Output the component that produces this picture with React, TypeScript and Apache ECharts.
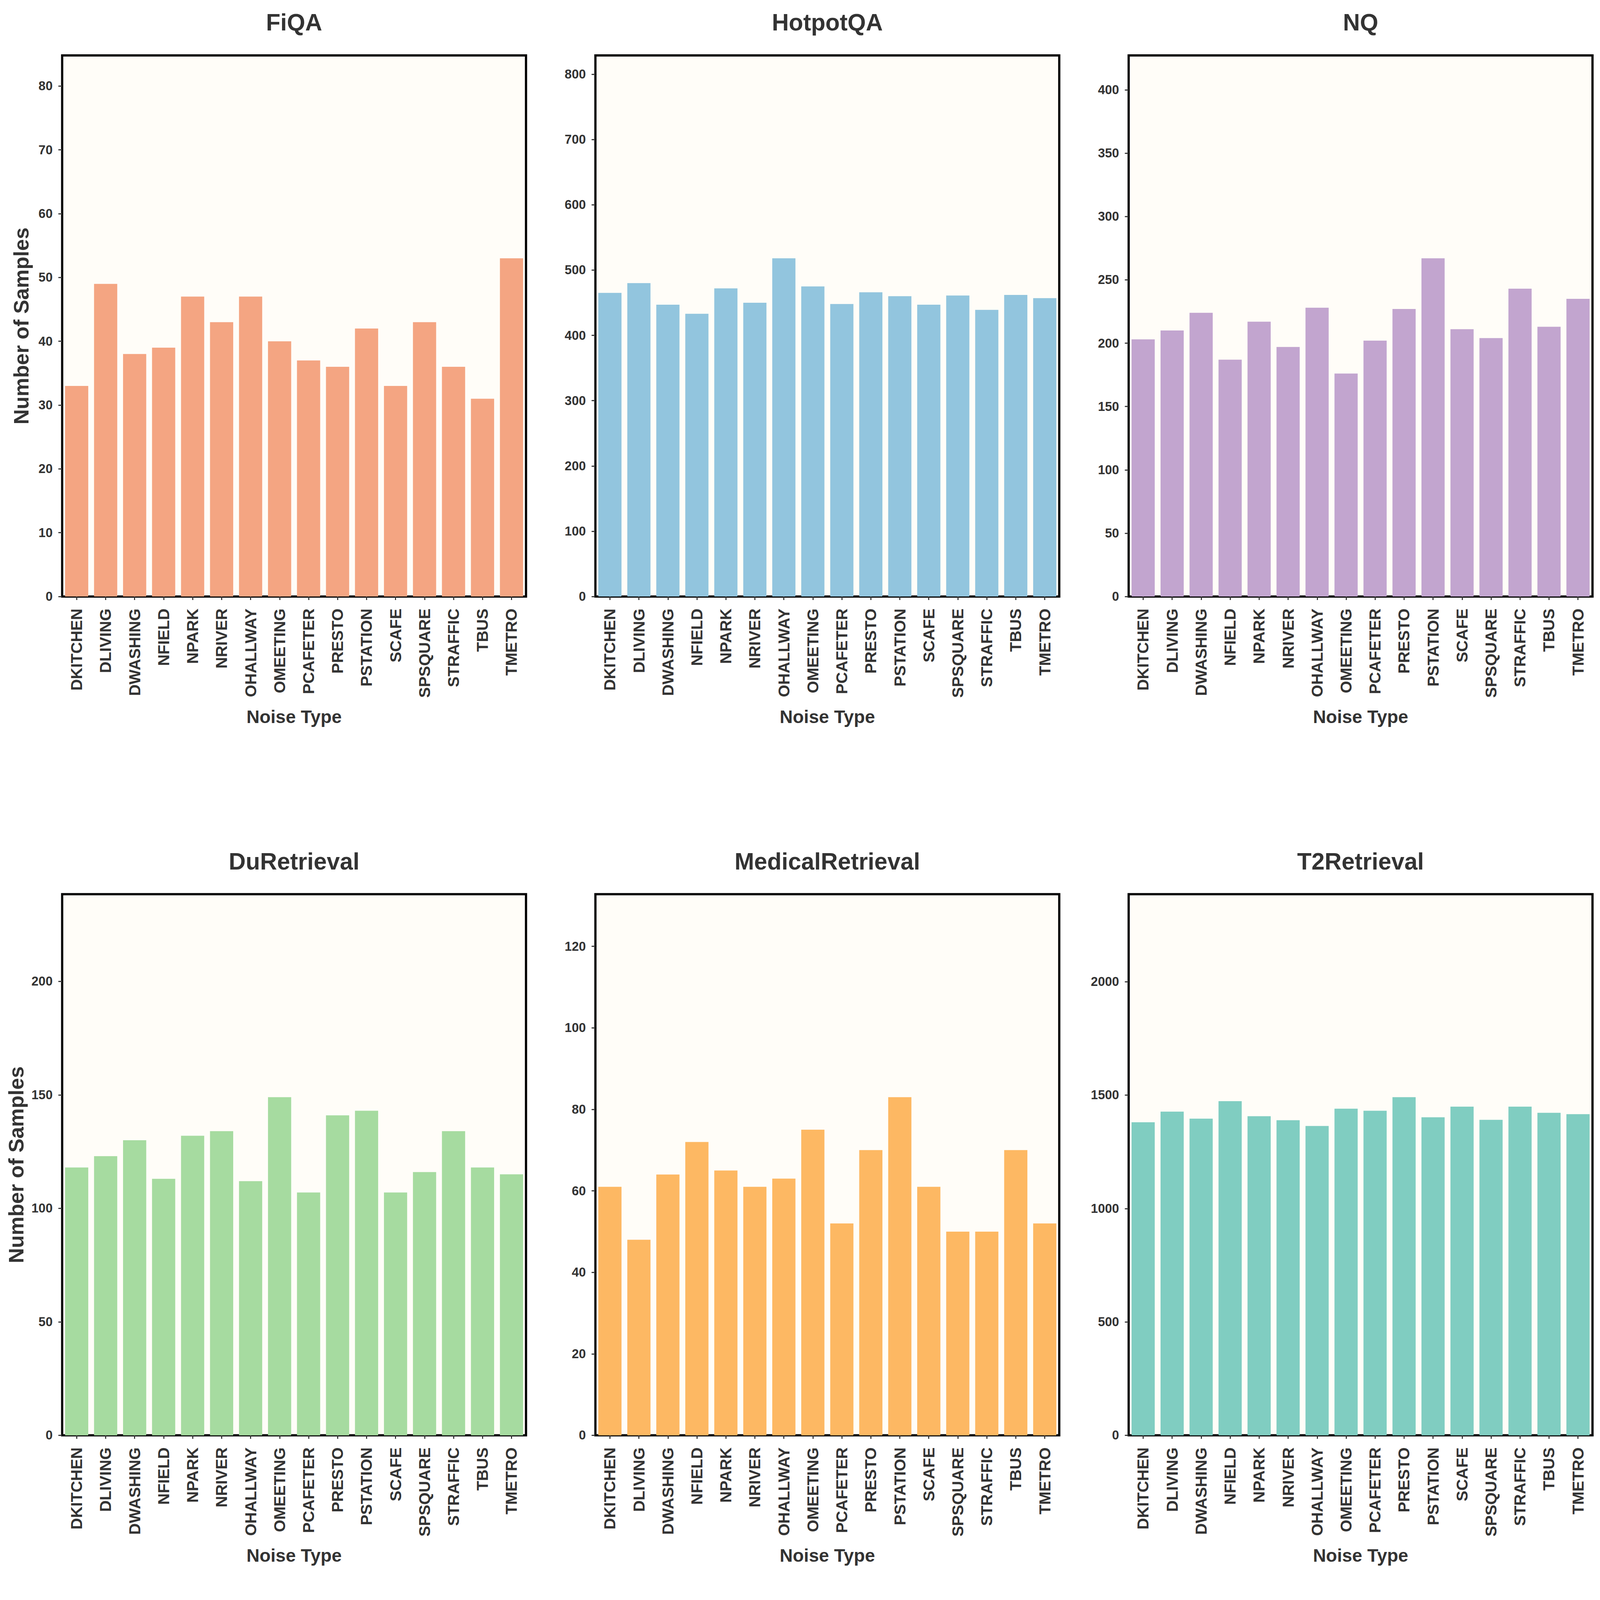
import React, { useEffect, useRef } from "react";
import * as echarts from "echarts";

const categories = [
  "DKITCHEN", "DLIVING", "DWASHING", "NFIELD", "NPARK", "NRIVER", "OHALLWAY", "OMEETING",
  "PCAFETER", "PRESTO", "PSTATION", "SCAFE", "SPSQUARE", "STRAFFIC", "TBUS", "TMETRO",
];

const fiqaValues = [33, 49, 38, 39, 47, 43, 47, 40, 37, 36, 42, 33, 43, 36, 31, 53];
const hotpotValues = [465, 480, 447, 433, 472, 450, 518, 475, 448, 466, 460, 447, 461, 439, 462, 457];
const nqValues = [203, 210, 224, 187, 217, 197, 228, 176, 202, 227, 267, 211, 204, 243, 213, 235];
const duValues = [118, 123, 130, 113, 132, 134, 112, 149, 107, 141, 143, 107, 116, 134, 118, 115];
const medicalValues = [61, 48, 64, 72, 65, 61, 63, 75, 52, 70, 83, 61, 50, 50, 70, 52];
const t2Values = [1380, 1427, 1396, 1473, 1407, 1389, 1364, 1440, 1431, 1491, 1402, 1449, 1391, 1449, 1422, 1416];

const fiqaTicks = [0, 10, 20, 30, 40, 50, 60, 70, 80];
const hotpotTicks = [0, 100, 200, 300, 400, 500, 600, 700, 800];
const nqTicks = [0, 50, 100, 150, 200, 250, 300, 350, 400];
const duTicks = [0, 50, 100, 150, 200];
const medicalTicks = [0, 20, 40, 60, 80, 100, 120];
const t2Ticks = [0, 500, 1000, 1500, 2000];

const titles = ["FiQA", "HotpotQA", "NQ", "DuRetrieval", "MedicalRetrieval", "T2Retrieval"];
const colors = ["#F4A582", "#92C5DE", "#C2A5CF", "#A6DBA0", "#FDB863", "#80CDC1"];

const panels = [
  { title: titles[0], values: fiqaValues, ticks: fiqaTicks, color: colors[0] },
  { title: titles[1], values: hotpotValues, ticks: hotpotTicks, color: colors[1] },
  { title: titles[2], values: nqValues, ticks: nqTicks, color: colors[2] },
  { title: titles[3], values: duValues, ticks: duTicks, color: colors[3] },
  { title: titles[4], values: medicalValues, ticks: medicalTicks, color: colors[4] },
  { title: titles[5], values: t2Values, ticks: t2Ticks, color: colors[5] },
];

// reference layout, in pixels of the 5971 x 4246 original
const REF_W = 5971;
const REF_H = 4246;
const colLeft = [232, 2222, 4212];
const rowTop = [147, 2373];
const gridW = 1731;
const gridH = 1436;
const FONT = "Liberation Sans, Arial, Helvetica, sans-serif";
const TXT = "#333333";

export default function App() {
  const ref = useRef<HTMLDivElement>(null);
  const vw = typeof window !== "undefined" ? window.innerWidth : REF_W;
  const vh = typeof window !== "undefined" ? window.innerHeight : REF_H;

  useEffect(() => {
    if (!ref.current) return;
    const sx = vw / REF_W;
    const sy = vh / REF_H;
    const fs = Math.sqrt(sx * sy);
    const chart = echarts.init(ref.current, null, { renderer: "svg", width: vw, height: vh });

    const grids: any[] = [];
    const xAxes: any[] = [];
    const yAxes: any[] = [];
    const series: any[] = [];
    const graphics: any[] = [];

    panels.forEach((p, i) => {
      const col = i % 3;
      const row = Math.floor(i / 3);
      const left = colLeft[col] * sx;
      const top = rowTop[row] * sy;
      const yNameFont = 66 * fs;
      const yNameCenter = (row === 0 ? 79 : 60) * sx;
      grids.push({
        left,
        top,
        width: gridW * sx,
        height: gridH * sy,
        show: true,
        backgroundColor: "#FFFDF8",
        borderColor: "#000000",
        borderWidth: 7 * fs,
        containLabel: false,
        outerBoundsMode: "none",
        z: 0,
      });
      xAxes.push({
        type: "category",
        gridIndex: i,
        data: categories,
        boundaryGap: true,
        axisLine: { show: false },
        axisTick: {
          show: true,
          alignWithLabel: true,
          interval: 0,
          length: 11 * fs,
          lineStyle: { color: TXT, width: 3.5 * fs },
        },
        axisLabel: {
          interval: 0,
          rotate: 90,
          margin: 38 * fs,
          fontSize: 50 * fs,
          fontWeight: "bold",
          fontFamily: FONT,
          color: TXT,
        },
        splitLine: { show: false },
        name: "Noise Type",
        nameLocation: "middle",
        nameGap: 350 * fs,
        nameTextStyle: { fontSize: 57 * fs, fontWeight: "bold", fontFamily: FONT, color: TXT },
      });
      const ymax = Math.max(...p.values) * 1.6;
      yAxes.push({
        type: "value",
        gridIndex: i,
        min: 0,
        max: ymax,
        axisLine: { show: false },
        splitLine: { show: false },
        axisTick: {
          show: true,
          length: 12 * fs,
          customValues: p.ticks,
          lineStyle: { color: TXT, width: 3.5 * fs },
        },
        axisLabel: {
          customValues: p.ticks,
          formatter: (v: number) => String(v),
          margin: 30 * fs,
          fontSize: 40 * fs,
          fontWeight: "bold",
          fontFamily: FONT,
          color: TXT,
        },
        name: col === 0 ? "Number of Samples" : "",
        nameLocation: "middle",
        nameGap: left - yNameCenter - yNameFont / 2,
        nameTextStyle: { fontSize: yNameFont, fontWeight: "bold", fontFamily: FONT, color: TXT },
      });
      series.push({
        type: "bar",
        xAxisIndex: i,
        yAxisIndex: i,
        data: p.values,
        barCategoryGap: "20%",
        itemStyle: { color: p.color },
        z: 2,
      });
      graphics.push({
        type: "text",
        x: left + (gridW * sx) / 2,
        y: (row === 0 ? 60 : 2286) * sy,
        style: {
          text: p.title,
          fill: TXT,
          fontSize: 74 * fs,
          fontWeight: "bold",
          fontFamily: FONT,
          align: "center",
          verticalAlign: "middle",
          textAlign: "center",
          textVerticalAlign: "middle",
        },
      });
    });

    chart.setOption({
      animation: false,
      backgroundColor: "#FFFFFF",
      grid: grids,
      xAxis: xAxes,
      yAxis: yAxes,
      series,
      graphic: graphics,
    });

    return () => {
      chart.dispose();
    };
  }, []);

  return (
    <div
      ref={ref}
      style={{ position: "absolute", left: 0, top: 0, width: vw + "px", height: vh + "px" }}
    />
  );
}
